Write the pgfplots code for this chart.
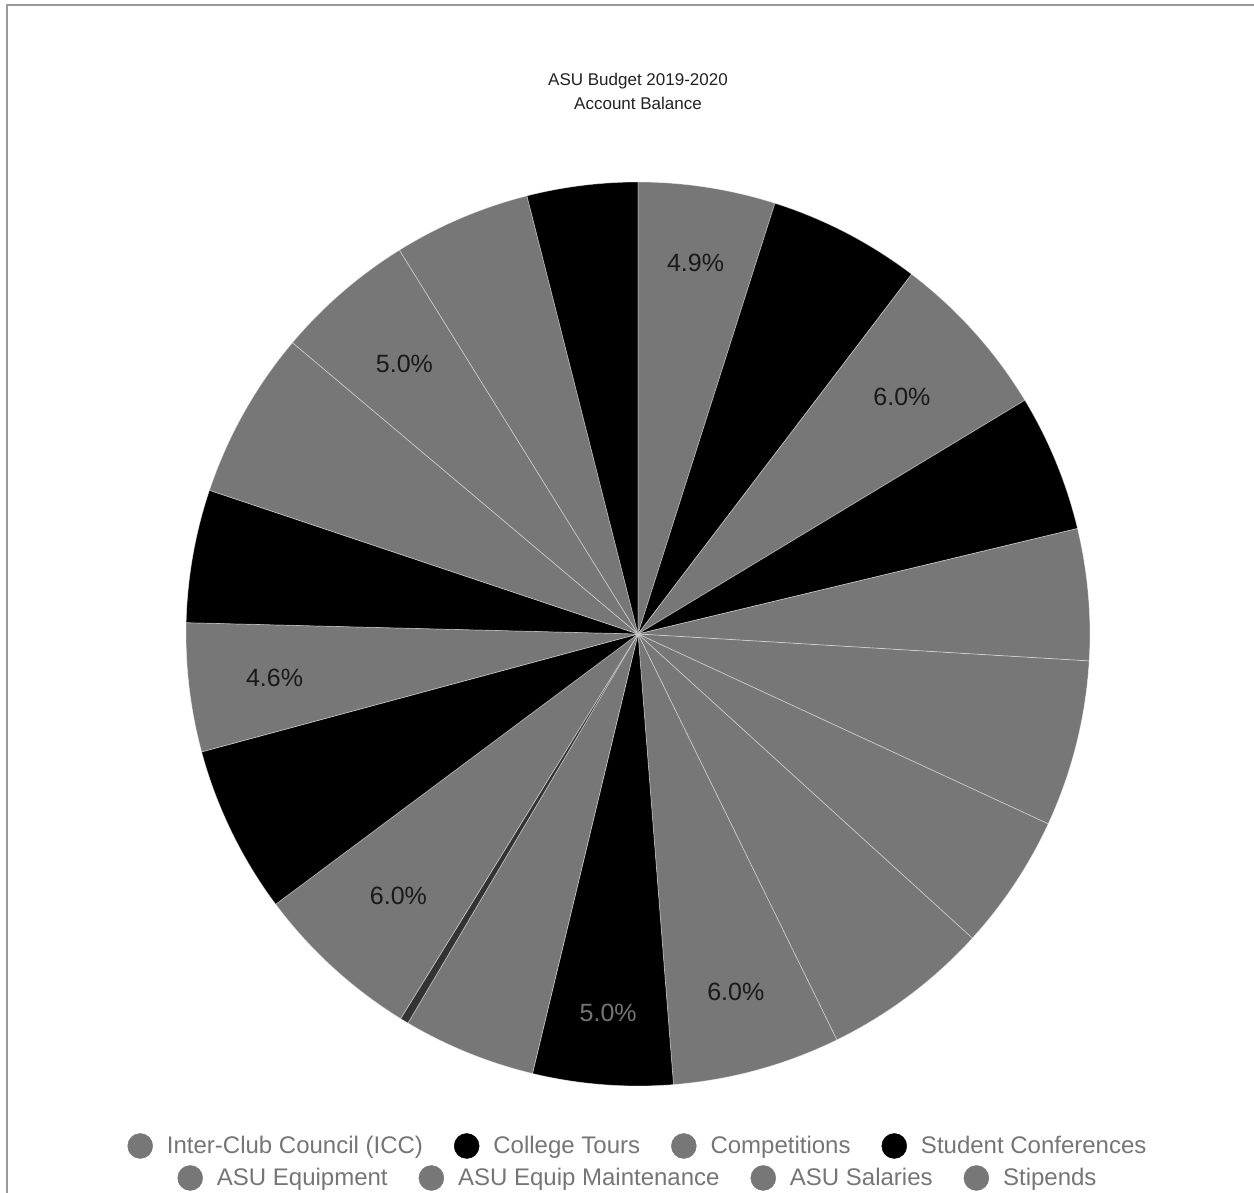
\documentclass[border=0pt]{standalone}
\usepackage{pgfplots}
\pgfplotsset{compat=1.18}
\usepackage{pgfplotstable}
\usepackage{fontspec}
\setmainfont{Liberation Sans}
\definecolor{sg}{HTML}{777777}
\definecolor{sk}{HTML}{000000}
\definecolor{sd}{HTML}{333333}
\definecolor{lgray}{HTML}{757575}
\definecolor{bordergray}{HTML}{9A9A9A}

% slice value (%), fill colour, label: 0 none, 1 dark text, 2 grey text; label radius
\pgfplotstableread{
value col lab rad
4.90 sg 1 0.83
5.45 sk 0 0.81
6.00 sg 1 0.785
4.90 sk 0 0.81
4.70 sg 0 0.81
5.95 sg 0 0.81
4.85 sg 0 0.81
6.00 sg 0 0.81
6.00 sg 1 0.82
5.00 sk 2 0.84
4.75 sg 0 0.81
0.30 sd 0 0.81
6.00 sg 1 0.785
6.00 sk 0 0.81
4.60 sg 1 0.81
4.75 sk 0 0.81
6.00 sg 0 0.81
5.00 sg 1 0.79
4.90 sg 0 0.81
3.95 sk 0 0.81
}\slices

\pgfplotsset{
  legstyle/.style={legend columns=4, legend cell align=left,
    legend style={draw=none, fill=none, at={(axis cs:0,#1)}, anchor=center,
      font=\fontsize{24}{27}\selectfont, text=lgray,
      /tikz/every odd column/.append style={column sep=12pt},
      /tikz/every even column/.append style={column sep=29pt}}},
  pieframe/.style={at={(0pt,0pt)}, anchor=south west,
    x=452pt, y=452pt, scale only axis,
    xmin=-1.4115, xmax=1.3628, ymin=-1.2367, ymax=1.4027,
    hide axis, clip=false},
}

\begin{document}
\begin{tikzpicture}[x=1pt,y=1pt]
\begin{axis}[pieframe, legstyle=-1.1327]
\pgfplotstablegetrowsof{\slices}
\pgfmathtruncatemacro{\N}{\pgfplotsretval-1}
\def\cum{0}
\pgfplotsforeachungrouped \i in {0,...,\N}{%
  \pgfplotstablegetelem{\i}{value}\of{\slices}\let\sv\pgfplotsretval
  \pgfplotstablegetelem{\i}{col}\of{\slices}\let\scol\pgfplotsretval
  \pgfplotstablegetelem{\i}{lab}\of{\slices}\let\slab\pgfplotsretval
  \pgfplotstablegetelem{\i}{rad}\of{\slices}\let\srad\pgfplotsretval
  \pgfmathsetmacro{\aa}{90-3.6*\cum}
  \pgfmathsetmacro{\ab}{90-3.6*(\cum+\sv)}
  \pgfmathsetmacro{\am}{(\aa+\ab)/2}
  \pgfmathsetmacro{\xa}{cos(\aa)}
  \pgfmathsetmacro{\ya}{sin(\aa)}
  \pgfmathsetmacro{\xl}{\srad*cos(\am)}
  \pgfmathsetmacro{\yl}{\srad*sin(\am)}
  \edef\temp{\noexpand\fill[\scol, draw=white, draw opacity=0.45, line width=0.7pt, line join=round]
     (axis cs:0,0) -- (axis cs:\xa,\ya) arc[start angle=\aa, end angle=\ab, radius=452pt] -- cycle;}
  \temp
  \ifnum\slab=1
    \edef\temp{\noexpand\node[font=\noexpand\fontsize{25}{30}\noexpand\selectfont, text=black!90] at (axis cs:\xl,\yl)
      {\noexpand\pgfmathprintnumber[fixed, fixed zerofill, precision=1, assume math mode=true]{\sv}\noexpand\%};}
    \temp
  \fi
  \ifnum\slab=2
    \edef\temp{\noexpand\node[font=\noexpand\fontsize{25}{30}\noexpand\selectfont, text=lgray] at (axis cs:\xl,\yl)
      {\noexpand\pgfmathprintnumber[fixed, fixed zerofill, precision=1, assume math mode=true]{\sv}\noexpand\%};}
    \temp
  \fi
  \pgfmathsetmacro{\cum}{\cum+\sv}
}
\addlegendimage{legend image code/.code={\fill[sg] (0pt,0pt) circle (12.5pt);}}
\addlegendentry{Inter-Club Council (ICC)}
\addlegendimage{legend image code/.code={\fill[sk] (0pt,0pt) circle (12.5pt);}}
\addlegendentry{College Tours}
\addlegendimage{legend image code/.code={\fill[sg] (0pt,0pt) circle (12.5pt);}}
\addlegendentry{Competitions}
\addlegendimage{legend image code/.code={\fill[sk] (0pt,0pt) circle (12.5pt);}}
\addlegendentry{Student Conferences}
\node[font=\fontsize{17}{24}\selectfont, text=black!87, align=center] at (axis cs:0,1.2013)
  {ASU Budget 2019-2020\\Account Balance};
\end{axis}
\begin{axis}[pieframe, legstyle=-1.2035]
\addlegendimage{legend image code/.code={\fill[sg] (0pt,0pt) circle (12.5pt);}}
\addlegendentry{ASU Equipment}
\addlegendimage{legend image code/.code={\fill[sg] (0pt,0pt) circle (12.5pt);}}
\addlegendentry{ASU Equip Maintenance}
\addlegendimage{legend image code/.code={\fill[sg] (0pt,0pt) circle (12.5pt);}}
\addlegendentry{ASU Salaries}
\addlegendimage{legend image code/.code={\fill[sg] (0pt,0pt) circle (12.5pt);}}
\addlegendentry{Stipends}
\end{axis}
\draw[bordergray, line width=2pt] (7,0) -- (7,1188) -- (1254,1188);
\pgfresetboundingbox
\path[use as bounding box] (0,0) rectangle (1254,1193);
\end{tikzpicture}
\end{document}
